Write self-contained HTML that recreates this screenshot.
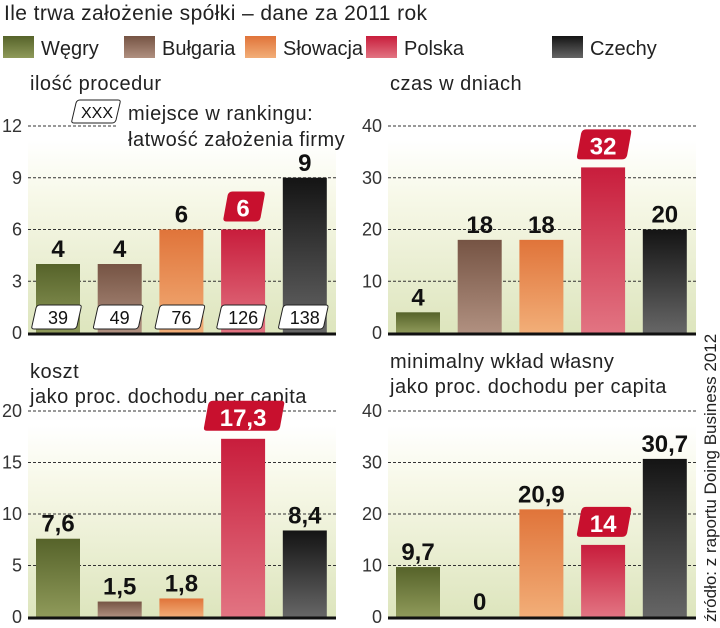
<!DOCTYPE html>
<html><head><meta charset="utf-8"><style>
body{margin:0;background:#fff;width:720px;height:628px;overflow:hidden;font-family:"Liberation Sans",sans-serif}
svg{display:block}
</style></head><body>
<svg id="c" width="720" height="628" xmlns="http://www.w3.org/2000/svg">
<defs>
<linearGradient id="bg" x1="0" y1="0" x2="0" y2="1"><stop offset="0" stop-color="#ffffff"/><stop offset="0.3" stop-color="#f7f8e8"/><stop offset="1" stop-color="#dde5bd"/></linearGradient>
<linearGradient id="g0" x1="0" y1="0" x2="0" y2="1"><stop offset="0" stop-color="#56632a"/><stop offset="1" stop-color="#8f9a5a"/></linearGradient>
<linearGradient id="g1" x1="0" y1="0" x2="0" y2="1"><stop offset="0" stop-color="#765444"/><stop offset="1" stop-color="#b09080"/></linearGradient>
<linearGradient id="g2" x1="0" y1="0" x2="0" y2="1"><stop offset="0" stop-color="#e0743a"/><stop offset="1" stop-color="#f2ae78"/></linearGradient>
<linearGradient id="g3" x1="0" y1="0" x2="0" y2="1"><stop offset="0" stop-color="#c81d3c"/><stop offset="1" stop-color="#e27482"/></linearGradient>
<linearGradient id="g4" x1="0" y1="0" x2="0" y2="1"><stop offset="0" stop-color="#141414"/><stop offset="1" stop-color="#666666"/></linearGradient>
</defs>
<text x="4" y="20" font-size="21" letter-spacing="0.4" fill="#222">Ile trwa założenie spółki – dane za 2011 rok</text>
<g id="legend"></g>
<g id="panels"></g>
<text transform="translate(716,622) rotate(-90)" font-size="17" fill="#222">źródło: z raportu Doing Business 2012</text>
</svg>
<script>
const countries=["Węgry","Bułgaria","Słowacja","Polska","Czechy"];
const procedures=[4,4,6,6,9];
const ranks=[39,49,76,126,138];
const days=[4,18,18,32,20];
const cost=[7.6,1.5,1.8,17.3,8.4];
const costLabels=["7,6","1,5","1,8","17,3","8,4"];
const capital=[9.7,0,20.9,14,30.7];
const capitalLabels=["9,7","0","20,9","14","30,7"];
const ticksA=[0,3,6,9,12];
const ticksB=[0,10,20,30,40];
const ticksC=[0,5,10,15,20];
const NS="http://www.w3.org/2000/svg";
const svg=document.getElementById('c');
function el(tag,attrs,parent,txt){const e=document.createElementNS(NS,tag);for(const k in attrs)e.setAttribute(k,attrs[k]);if(txt!==undefined)e.textContent=txt;(parent||svg).appendChild(e);return e;}
const lg=document.getElementById('legend');
const lgX=[3,124,245,366,552];
countries.forEach((c,i)=>{
 const r=el('rect',{x:lgX[i],y:36,width:31,height:22,fill:'url(#g'+i+')'},lg);
 
 
 const t=el('text',{x:lgX[i]+38,y:55,'font-size':20,fill:'#222'},lg,c);
 
 
});
function panel(opt){
 const g=el('g',{});
 
 
 const y0=opt.y0,h=opt.h,max=opt.ticks[opt.ticks.length-1];
 const ys=v=>y0-v/max*h;
 el('rect',{x:opt.x0,y:ys(max)+14,width:opt.w,height:h-14,fill:'url(#bg)'},g);
 opt.titles.forEach((t,i)=>{const tt=el('text',{x:opt.x0+2,y:opt.ty+i*25,'font-size':20,'letter-spacing':0.5,fill:'#222'},g,t);
  
  });
 opt.ticks.forEach(v=>{
  const tl=el('text',{x:opt.x0-6,y:ys(v)+6,'font-size':18,fill:'#333','text-anchor':'end'},g,String(v));
  
  
  if(v>0){const gl=el('line',{x1:opt.x0,x2:opt.x0+(v===max&&opt.gw?opt.gw:opt.w),y1:ys(v),y2:ys(v),stroke:'#333','stroke-width':1,'stroke-dasharray':'3,2'},g);
  
  }
 });
 opt.vals.forEach((v,i)=>{
  const bx=opt.x0+8+i*61.7,bw=44,top=ys(v);
  const b=el('rect',{x:bx,y:top,width:bw,height:y0-top,fill:'url(#g'+i+')'},g);
  
  
  const lab=opt.labels?opt.labels[i]:String(v);
  if(i===3){
   const lw=lab.length*13+20;
   const p=el('path',{d:`M${bx+bw/2-lw/2+6},${top-38} h${lw-4} q4,0 3,4 l-4,22 q-1,4 -5,4 h${-lw+4} q-4,0 -3,-4 l4,-22 q1,-4 5,-4z`,fill:'#c8102e'},g);
   
   
   const t=el('text',{x:bx+bw/2,y:top-13,'font-size':24,'font-weight':'bold',fill:'#fff','text-anchor':'middle'},g,lab);
   
   
  } else {
   const t=el('text',{x:bx+bw/2,y:top-7,'font-size':24,'font-weight':'bold',fill:'#111','text-anchor':'middle'},g,lab);
   
   
  }
  if(opt.ranks){
   const p=el('path',{d:`M${bx+4},${y0-28} h39 q3,0 2,3 l-4,18 q-1,3 -4,3 h-39 q-3,0 -2,-3 l4,-18 q1,-3 4,-3z`,fill:'#fff',stroke:'#222','stroke-width':1},g);
   
   
   const t=el('text',{x:bx+bw/2,y:y0-9,'font-size':18,fill:'#111','text-anchor':'middle'},g,String(opt.ranks[i]));
   
   
  }
 });
 const ax=el('line',{x1:opt.x0,x2:opt.x0+opt.w,y1:y0+1,y2:y0+1,stroke:'#111','stroke-width':3},g);
 
 
 document.getElementById('panels').appendChild(g);
 return g;
}
panel({name:'procedures-panel',x0:28,w:308,y0:333,h:207,ticks:ticksA,vals:procedures,ranks:ranks,titles:['ilość procedur'],ty:90,gw:90});
panel({name:'days-panel',x0:388,w:308,y0:333,h:207,ticks:ticksB,vals:days,titles:['czas w dniach'],ty:90});
panel({name:'cost-panel',x0:28,w:308,y0:617,h:206,ticks:ticksC,vals:cost,labels:costLabels,titles:['koszt','jako proc. dochodu per capita'],ty:378});
panel({name:'capital-panel',x0:388,w:308,y0:617,h:206,ticks:ticksB,vals:capital,labels:capitalLabels,titles:['minimalny wkład własny','jako proc. dochodu per capita'],ty:368});
const lgp=el('path',{d:'M80,100 h38 q3,0 2,3 l-4,17 q-1,3 -4,3 h-38 q-3,0 -2,-3 l4,-17 q1,-3 4,-3z',fill:'#fff',stroke:'#222'});


const lgt=el('text',{x:97,y:118,'font-size':16,fill:'#111','text-anchor':'middle'},svg,'XXX');


const l1=el('text',{x:128,y:120,'font-size':20,'letter-spacing':0.5,fill:'#222'},svg,'miejsce w rankingu:');


const l2=el('text',{x:128,y:146,'font-size':20,'letter-spacing':0.5,fill:'#222'},svg,'łatwość  założenia firmy');


</script>
</body></html>
